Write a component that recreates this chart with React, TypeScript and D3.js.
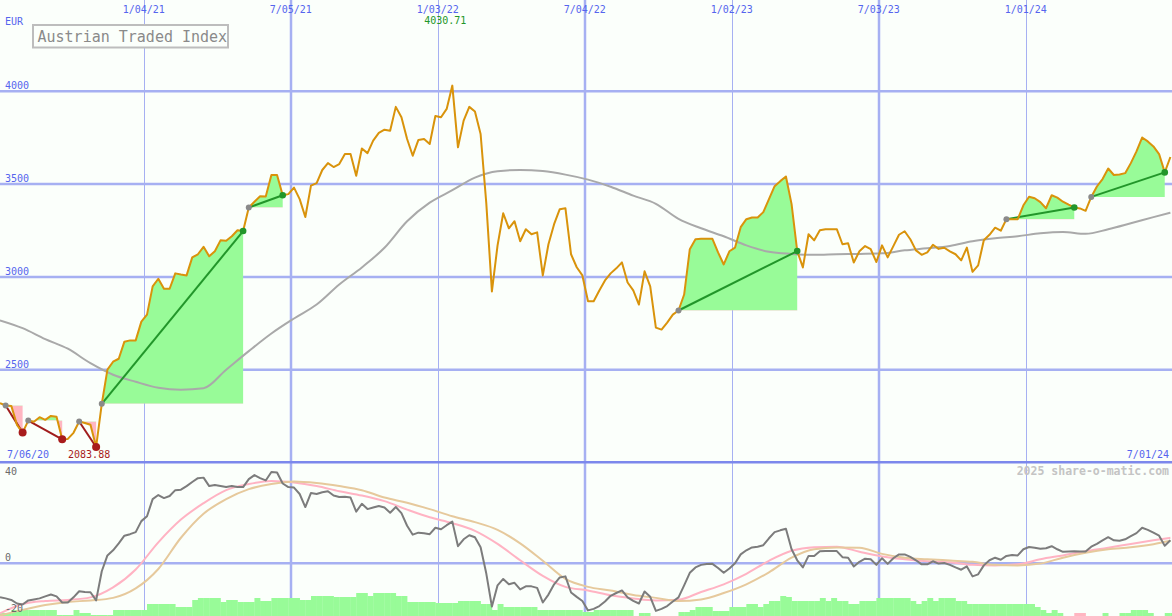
import React from 'react';
import * as d3 from 'd3';

const W = 1172;
const H = 616;

// weekly closes (Fridays) from 10 Jul 2020 to 28 Jun 2024
const startDate = '2020-07-10';
const endDate = '2024-06-28';

const price = [
  2320, 2307, 2305, 2203, 2161, 2226, 2220, 2244, 2230, 2251,
  2246, 2125, 2127, 2160, 2221, 2213, 2203, 2083.88, 2316, 2500,
  2543, 2559, 2651, 2658, 2658, 2759, 2797, 2949, 2990, 2936,
  2936, 3019, 3013, 3008, 3105, 3122, 3162, 3111, 3138, 3197,
  3195, 3219, 3251, 3247, 3374, 3405, 3435, 3433, 3549, 3549,
  3440, 3446, 3481, 3419, 3323, 3492, 3505, 3576, 3613, 3592,
  3608, 3662, 3662, 3545, 3692, 3667, 3734, 3776, 3793, 3788,
  3916, 3860, 3743, 3653, 3738, 3743, 3716, 3867, 3860, 3905,
  4030.71, 3698, 3842, 3916, 3891, 3770, 3400, 2922, 3170, 3343,
  3262, 3300, 3192, 3257, 3230, 3240, 3008, 3176, 3284, 3365,
  3370, 3122, 3052, 3008, 2869, 2869, 2927, 2981, 3019, 3046,
  3078, 2970, 2927, 2851, 3030, 2949, 2727, 2716, 2754, 2797,
  2819, 2905, 3149, 3203, 3205, 3205, 3205, 3132, 3067, 3138,
  3158, 3268, 3311, 3320, 3320, 3349, 3419, 3489, 3516, 3541,
  3392, 3139, 3051, 3230, 3197, 3251, 3257, 3257, 3257, 3176,
  3181, 3078, 3138, 3166, 3149, 3080, 3170, 3105, 3166, 3227,
  3246, 3203, 3143, 3119, 3132, 3173, 3151, 3157, 3138, 3122,
  3089, 3158, 3027, 3062, 3197, 3227, 3265, 3249, 3311, 3311,
  3311, 3386, 3432, 3424, 3403, 3370, 3440, 3427, 3405, 3389,
  3374, 3369, 3356, 3431, 3487, 3527, 3584, 3549, 3552, 3559,
  3613, 3676, 3751, 3730, 3703, 3662, 3563, 3646,
];

// long moving average, sampled every 4 weeks (last sample = final week)
const maSampleStep = 4;
const movingAverage = [
  2766, 2724, 2665, 2613, 2535, 2473, 2435, 2403, 2392, 2400,
  2500, 2600, 2695, 2776, 2851, 2959, 3051, 3157, 3300, 3400,
  3467, 3535, 3569, 3576, 3570, 3551, 3524, 3486, 3438, 3394,
  3313, 3262, 3219, 3170, 3135, 3124, 3119, 3122, 3124, 3127,
  3143, 3154, 3167, 3192, 3208, 3219, 3235, 3242, 3232, 3257,
  3289, 3322, 3346,
];

// lower panel: oscillator (weekly)
const oscillator = [
  -13.2, -13.7, -14.3, -15.7, -16.1, -14.5, -14.1, -13.7, -12.9, -12.2,
  -12.9, -15.3, -15.3, -13.3, -10.9, -11.2, -11.3, -14.5, -3.1, 3.1,
  5.1, 7.8, 10.8, 11.4, 12.2, 16.5, 18.4, 25.1, 26.7, 25.5,
  26.3, 28.6, 28.8, 30.2, 31.8, 33.3, 33.5, 30.2, 30.6, 30.2,
  29.8, 30.2, 29.8, 29.8, 32.9, 34.5, 33.3, 32.4, 35.7, 35.5,
  31.2, 29.8, 29.6, 27.1, 22.0, 27.5, 27.1, 27.8, 28.2, 26.5,
  25.9, 26.0, 25.7, 20.2, 23.3, 21.2, 21.8, 22.4, 21.8, 19.8,
  22.0, 19.6, 14.7, 11.2, 12.0, 11.8, 11.4, 13.9, 13.3, 14.9,
  16.3, 6.7, 9.4, 11.0, 10.2, 6.3, -3.9, -16.9, -8.6, -6.1,
  -8.2, -7.6, -10.2, -9.0, -9.0, -9.6, -15.3, -12.2, -8.2, -5.5,
  -5.1, -11.4, -13.1, -14.7, -18.4, -17.8, -16.7, -14.9, -12.7, -11.6,
  -10.6, -13.3, -14.7, -15.7, -11.0, -13.1, -18.6, -17.8, -16.7, -14.9,
  -13.3, -8.6, -3.7, -1.6, -0.6, -0.3, -0.2, -1.8, -3.7, -2.0,
  0, 3.5, 5.1, 6.2, 6.5, 7.1, 9.8, 12.2, 12.9, 13.5,
  5.5, 1.2, -1.6, 2.9, 2.9, 4.7, 4.8, 4.8, 4.8, 2.4,
  2.2, -1.2, 0.6, 1.8, 1.6, -0.6, 2.0, -0.2, 2.0, 3.5,
  3.5, 2.5, 1.2, -0.4, -0.4, 0.8, -0.1, 0.1, -0.6, -1.6,
  -2.5, -1.2, -5.1, -4.3, -0.8, 1.2, 2.2, 1.4, 2.9, 3.3,
  3.1, 5.5, 6.4, 6.1, 5.7, 5.9, 6.7, 5.5, 4.5, 4.6,
  4.7, 4.6, 4.6, 6.5, 7.6, 9.0, 10.2, 9.0, 8.8, 9.4,
  10.6, 11.8, 13.9, 13.1, 12.0, 10.8, 6.9, 9.0,
];

// oscillator averages, sampled every 4 weeks (last sample = final week)
const oscFastAvg = [
  -19.6, -15.9, -14.7, -14.3, -13.3, -9.4, -2.4, 8.2, 17.1, 23.5,
  28.6, 31.0, 32.2, 31.6, 30.2, 28.2, 26.5, 24.3, 21.0, 18.0,
  15.7, 12.7, 7.6, 1.2, -4.9, -9.2, -10.6, -12.5, -13.7, -14.5,
  -14.2, -11.2, -8.2, -4.1, 1.0, 4.9, 6.3, 6.5, 4.5, 2.7,
  1.6, 0.8, 0.4, -0.6, -0.8, -0.4, 1.6, 3.1, 4.7, 6.1,
  7.6, 9.0, 10.0,
];
const oscSlowAvg = [
  -20.4, -18.2, -16.3, -15.1, -14.5, -13.5, -9.8, -2.2, 10.0, 19.4,
  25.1, 29.0, 31.0, 32.0, 31.4, 30.2, 28.6, 25.7, 23.7, 21.2,
  18.4, 16.1, 13.1, 7.8, 1.0, -6.1, -9.2, -10.6, -12.4, -13.5,
  -14.7, -14.1, -11.6, -8.2, -3.5, 2.2, 5.5, 6.2, 6.1, 3.7,
  2.2, 1.6, 1.1, 0.6, -0.6, -0.8, -0.1, 2.2, 4.1, 5.5,
  6.3, 7.5, 8.8,
];

// weekly histogram at panel bottom (negative = pink)
const histogram = [
  3, 3, 6, 6, 6, 6, 6, 6, 6, 6,
  1, 1, 1, 6, 3, 3, 1, 1, 1, 1,
  6, 6, 6, 6, 6, 6, 12, 12, 12, 12,
  12, 9, 9, 9, 16, 18, 18, 18, 18, 14,
  16, 16, 14, 14, 14, 18, 15, 15, 18, 18,
  18, 18, 18, 16, 16, 20, 20, 20, 20, 19,
  19, 19, 19, 23, 23, 20, 23, 23, 23, 23,
  20, 20, 14, 14, 14, 14, 14, 13, 13, 13,
  13, 15, 15, 15, 15, 12, 12, 6, 12, 9,
  9, 9, 9, 9, 9, 6, 6, 6, 6, 6,
  6, 6, 6, 4, 4, 6, 6, 6, 6, 6,
  6, 6, 0, 3, 3, 0, 0, 0, 0, 0,
  4, 4, 6, 9, 9, 9, 5, 5, 5, 9,
  9, 9, 12, 12, 9, 12, 15, 15, 20, 19,
  15, 15, 15, 15, 15, 18, 15, 18, 15, 15,
  12, 12, 15, 15, 15, 18, 18, 18, 18, 18,
  18, 15, 12, 15, 18, 15, 18, 18, 18, 15,
  15, 12, 12, 12, 12, 12, 12, 12, 12, 12,
  12, 12, 12, 9, 6, 3, 6, 3, 0, 0,
  -3, -3, 0, 0, 0, 3, 0, 0, 3, 3,
  6, 6, 6, 3, 0, 0, 3, 3,
];

// trend segments (start week, end week)
const downTrends = [[1, 4], [5, 11], [14, 17]];
const upTrends = [[18, 43], [44, 50], [120, 141], [178, 190], [193, 206]];

const gridDates = ['2021-01-04', '2021-07-05', '2022-01-03', '2022-07-04', '2023-01-02', '2023-07-03', '2024-01-01'];
const priceTicks = [2500, 3000, 3500, 4000];
const oscTicks = [40, 0, -20];
const firstLabel = '7/06/20';
const lastLabel = '7/01/24';
const title = 'Austrian Traded Index';
const currency = 'EUR';
const credit = '2025 share-o-matic.com';

const parse = d3.timeParse('%Y-%m-%d');
const fmt = d3.timeFormat('%-m/%d/%y');

const MAIN_BOTTOM = 462.5;
const FONT = 'DejaVu Sans Mono, monospace';

export default function App() {
  const t0 = parse(startDate) as Date;
  const t1 = parse(endDate) as Date;
  const x = d3.scaleTime().domain([t0, t1]).range([0, 1170.4]);
  const dateOf = (i: number) => d3.timeDay.offset(t0, 7 * i);
  const xi = (i: number) => x(dateOf(i));
  const y = d3.scaleLinear().domain([2000, 4500]).range([MAIN_BOTTOM, -1.5]);
  const yo = d3.scaleLinear().domain([-20, 40]).range([614.5, 461]);

  const maWeeks = movingAverage.map((_, k) => Math.min(k * maSampleStep, price.length - 1));

  const priceLine = d3.line<number>().x((_, i) => xi(i)).y((v) => y(v))(price) as string;
  const smooth = d3.curveMonotoneX;
  const maLine = d3.line<number>().curve(smooth).x((_, k) => xi(maWeeks[k])).y((v) => y(v))(movingAverage) as string;
  const oscLine = d3.line<number>().x((_, i) => xi(i)).y((v) => yo(v))(oscillator) as string;
  const fastLine = d3.line<number>().curve(smooth).x((_, k) => xi(maWeeks[k])).y((v) => yo(v))(oscFastAvg) as string;
  const slowLine = d3.line<number>().curve(smooth).x((_, k) => xi(maWeeks[k])).y((v) => yo(v))(oscSlowAvg) as string;

  const segs = [
    ...downTrends.map(([s, e]) => ({ s, e, up: false })),
    ...upTrends.map(([s, e]) => ({ s, e, up: true })),
  ];

  const minIdx = price.indexOf(d3.min(price) as number);
  const maxIdx = price.indexOf(d3.max(price) as number);

  const weekW = xi(1) - xi(0);
  const blue = '#5565ee';
  const gridC = '#a6b0f2';

  return (
    <svg
      width={W}
      height={H}
      style={{ position: 'absolute', left: 0, top: 0, display: 'block' }}
      fontFamily={FONT}
    >
      <defs>
        <clipPath id="mainClip">
          <rect x={0} y={0} width={W} height={MAIN_BOTTOM - 1} />
        </clipPath>
        <clipPath id="oscClip">
          <rect x={0} y={MAIN_BOTTOM + 1} width={W} height={H - MAIN_BOTTOM} />
        </clipPath>
        {segs.map((sg, k) => {
          const by = y(price[sg.s]);
          return (
            <React.Fragment key={k}>
              <clipPath id={`above${k}`}>
                <rect x={0} y={0} width={W} height={by} />
              </clipPath>
              <clipPath id={`below${k}`}>
                <rect x={0} y={by} width={W} height={MAIN_BOTTOM - by} />
              </clipPath>
            </React.Fragment>
          );
        })}
      </defs>
      <rect x={0} y={0} width={W} height={H} fill="#fbfffb" />

      {/* grid */}
      {priceTicks.map((v) => (
        <line key={v} x1={0} x2={W} y1={y(v)} y2={y(v)} stroke={gridC} strokeWidth={2.5} />
      ))}
      <line x1={0} x2={W} y1={yo(0)} y2={yo(0)} stroke={gridC} strokeWidth={2.5} />
      {gridDates.map((d) => {
        const dt = parse(d) as Date;
        const gx = Math.round(x(dt));
        const thick = dt.getMonth() === 6;
        return (
          <line
            key={d}
            x1={thick ? gx : gx + 0.5}
            x2={thick ? gx : gx + 0.5}
            y1={0}
            y2={H}
            stroke={gridC}
            strokeWidth={thick ? 2.5 : 1}
          />
        );
      })}
      <line x1={0} x2={W} y1={MAIN_BOTTOM - 0.3} y2={MAIN_BOTTOM - 0.3} stroke="#7c88ec" strokeWidth={2.6} />

      {/* main panel */}
      <g clipPath="url(#mainClip)">
        {segs.map((sg, k) => {
          const idx = d3.range(sg.s, sg.e + 1);
          const by = y(price[sg.s]);
          const a = d3
            .area<number>()
            .x((i) => xi(i))
            .y0(by)
            .y1((i) => y(price[i]))(idx) as string;
          return (
            <g key={k}>
              <path d={a} fill="#98fb98" clipPath={`url(#above${k})`} />
              <path d={a} fill="#ffb6c1" clipPath={`url(#below${k})`} />
            </g>
          );
        })}
        <path d={maLine} fill="none" stroke="#a9a9a9" strokeWidth={2} />
        {segs.map((sg, k) => (
          <line
            key={k}
            x1={xi(sg.s)}
            y1={y(price[sg.s])}
            x2={xi(sg.e)}
            y2={y(price[sg.e])}
            stroke={sg.up ? '#22962a' : '#a01c1c'}
            strokeWidth={2}
          />
        ))}
        <path d={priceLine} fill="none" stroke="#d9930b" strokeWidth={2} strokeLinejoin="round" />
        {segs.map((sg, k) => (
          <g key={k}>
            <circle cx={xi(sg.s)} cy={y(price[sg.s])} r={3} fill="#8a8a8a" />
            <circle
              cx={xi(sg.e)}
              cy={y(price[sg.e])}
              r={sg.up ? 3.3 : 4}
              fill={sg.up ? '#22962a' : '#a81c1c'}
            />
          </g>
        ))}
      </g>

      {/* lower panel */}
      <g clipPath="url(#oscClip)">
        {histogram.map((v, i) => (
          <rect
            key={i}
            x={xi(i)}
            y={H - Math.abs(v)}
            width={weekW + 0.3}
            height={Math.abs(v)}
            fill={v < 0 ? '#ffb6c1' : '#98fb98'}
          />
        ))}
        <path d={fastLine} fill="none" stroke="#ffb3c3" strokeWidth={2} />
        <path d={slowLine} fill="none" stroke="#e6c99c" strokeWidth={2} />
        <path d={oscLine} fill="none" stroke="#7c7c7c" strokeWidth={2} strokeLinejoin="round" />
      </g>

      {/* labels */}
      <g fontSize={10} fill={blue}>
        {gridDates.map((d) => {
          const dt = parse(d) as Date;
          return (
            <text key={d} x={x(dt)} y={12.5} textAnchor="middle">
              {fmt(dt)}
            </text>
          );
        })}
        <text x={5} y={25}>{currency}</text>
        {priceTicks.map((v) => (
          <text key={v} x={5} y={y(v) - 2}>
            {v}
          </text>
        ))}
        <text x={7} y={457.5}>{firstLabel}</text>
        <text x={1169} y={457.5} textAnchor="end">{lastLabel}</text>
      </g>
      <text x={xi(minIdx) - 7} y={457.5} fontSize={10} fill="#a81c1c" textAnchor="middle">
        {d3.format('.2f')(price[minIdx])}
      </text>
      <text x={xi(maxIdx) - 7} y={24} fontSize={10} fill="#22962a" textAnchor="middle">
        {d3.format('.2f')(price[maxIdx])}
      </text>
      <text x={1169} y={475} fontSize={11.5} fontWeight="bold" fill="#c4c4c4" textAnchor="end">
        {credit}
      </text>
      <g fontSize={10} fill="#6a6a6a">
        {oscTicks.map((v) => (
          <text key={v} x={5} y={v === 40 ? 475 : v === 0 ? 561 : 612}>
            {v}
          </text>
        ))}
      </g>

      {/* title box */}
      <rect x={33} y={25} width={195} height={22.5} fill="#fbfffb" stroke="#bdbdbd" strokeWidth={2} />
      <text x={37.5} y={41.5} fontSize={15} fill="#8a8a8a">
        {title}
      </text>
    </svg>
  );
}
